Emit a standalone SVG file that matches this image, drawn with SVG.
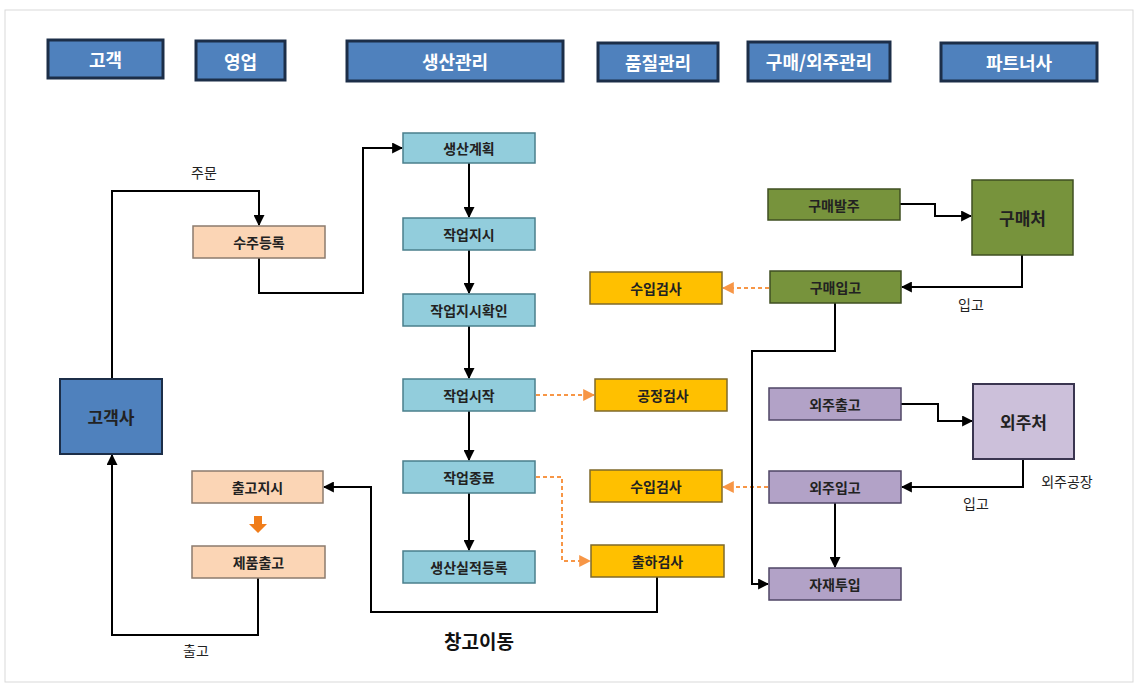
<svg xmlns="http://www.w3.org/2000/svg" width="1140" height="690" viewBox="0 0 1140 690">
<defs>
<marker id="ah" viewBox="0 0 10 10" refX="9" refY="5" markerWidth="5.5" markerHeight="5.5" orient="auto" markerUnits="strokeWidth"><path d="M0,0 L10,5 L0,10 z" fill="#000"/></marker>
<marker id="oh" viewBox="0 0 10 10" refX="9" refY="5" markerWidth="6" markerHeight="6" orient="auto" markerUnits="strokeWidth"><path d="M0,0 L10,5 L0,10 z" fill="#f79646"/></marker>
<style>
text{font-family:"Noto Sans CJK KR","Noto Sans",sans-serif;text-anchor:middle;dominant-baseline:central}
.hd rect{fill:#4f81bd;stroke:#1c2e48;stroke-width:3}
.hd text{fill:#fff;font-size:18px;font-weight:bold}
.n text{font-size:14px;font-weight:bold;fill:#222}
.big text{font-size:17px}
.pb rect{fill:#92cddc;stroke:#4a7f8c;stroke-width:1.5}
.pe rect{fill:#fbd5b5;stroke:#8c7b6e;stroke-width:1.5}
.qc rect{fill:#ffc000;stroke:#7f6a2a;stroke-width:1.5}
.gr rect{fill:#77933c;stroke:#3f4f22;stroke-width:1.5}
.pu rect{fill:#b2a2c7;stroke:#4f4666;stroke-width:1.5}
.pl rect{fill:#ccc0da;stroke:#3a3550;stroke-width:2}
.cu rect{fill:#4f81bd;stroke:#1c2e48;stroke-width:2}
.c{fill:none;stroke:#000;stroke-width:2;marker-end:url(#ah)}
.d{fill:none;stroke:#f79646;stroke-width:2;stroke-dasharray:4 3;marker-end:url(#oh)}
.lb{font-size:14px;fill:#222}
</style>
</defs>
<rect x="5" y="10" width="1128" height="672" fill="#fff" stroke="#d9d9d9" stroke-width="1"/>

<g id="h-customer" class="hd"><rect x="48" y="40" width="115" height="38"/><text x="105.5" y="59">고객</text></g>
<g id="h-sales" class="hd"><rect x="196" y="41" width="89" height="39"/><text x="240.5" y="60.5">영업</text></g>
<g id="h-prod" class="hd"><rect x="347" y="41" width="216" height="40"/><text x="455" y="61">생산관리</text></g>
<g id="h-qc" class="hd"><rect x="598" y="43" width="120" height="38"/><text x="658" y="62">품질관리</text></g>
<g id="h-purch" class="hd"><rect x="748" y="42" width="142" height="39"/><text x="819" y="61">구매/외주관리</text></g>
<g id="h-partner" class="hd"><rect x="941" y="43" width="156" height="38"/><text x="1019" y="62">파트너사</text></g>

<g id="connectors">
<path class="c" d="M112,379 V191 H259 V225"/>
<path class="c" d="M259,258 V293 H363 V148 H402"/>
<path class="c" d="M469,163 V217"/>
<path class="c" d="M469,250 V293"/>
<path class="c" d="M469,326 V378"/>
<path class="c" d="M469,411 V460"/>
<path class="c" d="M469,493 V550"/>
<path class="d" d="M536,395 H594"/>
<path class="d" d="M536,477 H562 V561 H590"/>
<path class="d" d="M769,288 H723"/>
<path class="d" d="M768,487 H723"/>
<path class="c" d="M900,204 H935 V216 H971"/>
<path class="c" d="M1022,255 V287 H902"/>
<path class="c" d="M835,303 V351 H752 V584 H768"/>
<path class="c" d="M901,404 H938 V421 H972"/>
<path class="c" d="M1023,459 V487 H902"/>
<path class="c" d="M835,503 V567"/>
<path class="c" d="M657,577 V612 H371 V487 H324"/>
<path class="c" d="M258,578 V635 H112 V455"/>
<path d="M254,516 H262 V524 H267 L258,533 L249,524 H254 z" fill="#f07d1a"/>
</g>

<g id="n-plan" class="n pb"><rect x="403" y="133" width="132" height="30"/><text x="469" y="148">생산계획</text></g>
<g id="n-order" class="n pb"><rect x="403" y="218" width="132" height="32"/><text x="469" y="234">작업지시</text></g>
<g id="n-orderconf" class="n pb"><rect x="403" y="294" width="132" height="32"/><text x="469" y="310">작업지시확인</text></g>
<g id="n-start" class="n pb"><rect x="403" y="379" width="132" height="32"/><text x="469" y="395">작업시작</text></g>
<g id="n-end" class="n pb"><rect x="403" y="461" width="132" height="32"/><text x="469" y="477">작업종료</text></g>
<g id="n-result" class="n pb"><rect x="403" y="551" width="132" height="32"/><text x="469" y="567">생산실적등록</text></g>

<g id="n-sorder" class="n pe"><rect x="193" y="226" width="132" height="32"/><text x="259" y="242">수주등록</text></g>
<g id="n-shipord" class="n pe"><rect x="192" y="471" width="131" height="32"/><text x="257.5" y="487">출고지시</text></g>
<g id="n-ship" class="n pe"><rect x="192" y="546" width="133" height="32"/><text x="258.5" y="562">제품출고</text></g>
<g id="n-client" class="n big cu"><rect x="60" y="379" width="102" height="75"/><text x="111" y="416.5">고객사</text></g>

<g id="n-inq1" class="n qc"><rect x="590" y="272" width="132" height="32"/><text x="656" y="288">수입검사</text></g>
<g id="n-procq" class="n qc"><rect x="595" y="379" width="132" height="32"/><text x="663" y="395">공정검사</text></g>
<g id="n-inq2" class="n qc"><rect x="590" y="470" width="132" height="32"/><text x="656" y="486">수입검사</text></g>
<g id="n-shipq" class="n qc"><rect x="591" y="545" width="133" height="32"/><text x="657.5" y="561">출하검사</text></g>

<g id="n-po" class="n gr"><rect x="768" y="189" width="132" height="31"/><text x="834" y="204.5">구매발주</text></g>
<g id="n-vendor" class="n big gr"><rect x="972" y="180" width="101" height="75"/><text x="1022.5" y="217.5">구매처</text></g>
<g id="n-pin" class="n gr"><rect x="770" y="271" width="131" height="32"/><text x="835.5" y="287">구매입고</text></g>

<g id="n-oout" class="n pu"><rect x="769" y="388" width="132" height="32"/><text x="835" y="404">외주출고</text></g>
<g id="n-sub" class="n big pl"><rect x="973" y="384" width="101" height="75"/><text x="1023.5" y="421.5">외주처</text></g>
<g id="n-oin" class="n pu"><rect x="769" y="471" width="132" height="32"/><text x="835" y="487">외주입고</text></g>
<g id="n-mat" class="n pu"><rect x="769" y="568" width="132" height="32"/><text x="835" y="584">자재투입</text></g>

<g id="labels">
<text class="lb" x="204" y="172">주문</text>
<text class="lb" x="971" y="304">입고</text>
<text class="lb" x="976" y="503">입고</text>
<text class="lb" x="1067" y="481">외주공장</text>
<text class="lb" x="196" y="650">출고</text>
<text x="479" y="640" style="font-size:19px;font-weight:bold;fill:#111">창고이동</text>
</g>
</svg>
